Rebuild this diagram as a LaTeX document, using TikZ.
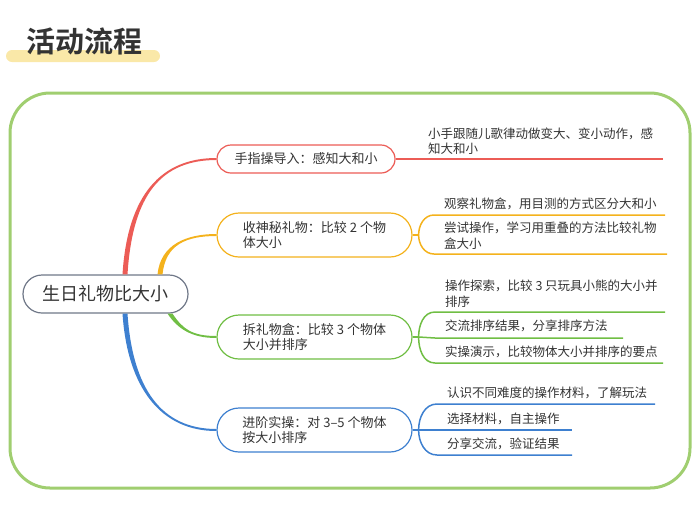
\documentclass[tikz,border=0pt]{standalone}
\usepackage{fontspec}
\setmainfont{Noto Sans CJK SC}[BoldFont={Noto Sans CJK SC Bold}]
\usepackage{tikz}
\usetikzlibrary{calc, positioning}
\definecolor{Rojo}{RGB}{236,92,86}
\definecolor{Naranja}{RGB}{244,178,28}
\definecolor{Verde}{RGB}{112,190,68}
\definecolor{Azul}{RGB}{62,128,208}
\definecolor{Marco}{RGB}{160,206,112}
\definecolor{Gris}{RGB}{112,120,136}
\definecolor{Barra}{RGB}{250,232,168}
\definecolor{Texto}{RGB}{51,51,51}

\begin{document}
\begin{tikzpicture}[x=1pt, y=-1pt,
  raizbox/.style={rectangle, rounded corners=19pt, draw=Gris, line width=1.2pt,
                  fill=white, minimum width=165pt, minimum height=38pt,
                  font=\fontsize{18}{22}\selectfont, text=Texto},
  temabox/.style={rectangle, rounded corners=22pt, draw=#1, line width=1.2pt,
                  fill=white, minimum width=195pt, minimum height=44pt,
                  align=left, font=\fontsize{13}{15}\selectfont, text=Texto},
  subtxt/.style={anchor=south west, align=left, inner xsep=10pt, inner ysep=4.5pt,
                 font=\fontsize{12.5}{15.5}\selectfont, text=Texto},
  lin/.style={line width=1.5pt, color=#1}
]
\useasboundingbox (0,0) rectangle (700,512);

%% Titulo
\fill[Barra, rounded corners=6pt] (6,50) rectangle (160,62);
\node[font=\fontsize{29}{32}\selectfont\bfseries, text=Texto] (titulo) at (84,41) {活动流程};

%% Marco
\draw[Marco, line width=3pt, rounded corners=40pt] (10,93) rectangle (690,488);

%% Nodos principales
\node[raizbox] (raiz) at (105.5,294) {生日礼物比大小};
\node[temabox=Rojo, rounded corners=14pt, minimum width=178pt, minimum height=28pt] (t1) at (306,159)
  {手指操导入：感知大和小};
\node[temabox=Naranja] (t2) at (314.5,235) {收神秘礼物：比较 2 个物\\体大小};
\node[temabox=Verde] (t3) at (314.5,337) {拆礼物盒：比较 3 个物体\\大小并排序};
\node[temabox=Azul] (t4) at (314.5,430) {进阶实操：对 3–5 个物体\\按大小排序};

%% Ramas (gruesas junto a la raiz)
\fill[Rojo] ([xshift=17pt]raiz.north) .. controls +(5,-80) and +(-55,0) .. ([yshift=1pt]t1.west)
  -- ([yshift=-1pt]t1.west) .. controls +(-55,0) and +(5,-80) .. ([xshift=22pt]raiz.north) -- cycle;
\fill[Naranja] ([xshift=52pt]raiz.north) .. controls +(3,-30) and +(-30,0) .. ([yshift=1pt]t2.west)
  -- ([yshift=-1pt]t2.west) .. controls +(-30,0) and +(3,-30) .. ([xshift=57pt]raiz.north) -- cycle;
\fill[Verde] ([xshift=62pt]raiz.south) .. controls +(10,15) and +(-25,0) .. ([yshift=-1pt]t3.west)
  -- ([yshift=1pt]t3.west) .. controls +(-25,0) and +(10,15) .. ([xshift=67pt]raiz.south) -- cycle;
\fill[Azul] ([xshift=17pt]raiz.south) .. controls +(5,75) and +(-55,0) .. ([yshift=-1pt]t4.west)
  -- ([yshift=1pt]t4.west) .. controls +(-55,0) and +(5,75) .. ([xshift=22pt]raiz.south) -- cycle;

%% Etapa 1
\node[subtxt, inner ysep=4pt] (s11) at (418,159) {小手跟随儿歌律动做变大、变小动作，感\\知大和小};
\coordinate (e11) at (663,159);
\draw[lin=Rojo] (t1.east) -- (s11.south west) -- (e11);

%% Etapa 2
\node[subtxt] (s21) at (434,215) {观察礼物盒，用目测的方式区分大和小};
\node[subtxt] (s22) at (434,254) {尝试操作，学习用重叠的方法比较礼物\\盒大小};
\coordinate (e21) at (665,215);
\coordinate (e22) at (667,254);
\draw[lin=Naranja] (t2.east) -- ++(6,0) coordinate (k2);
\draw[lin=Naranja] (k2) to[out=90, in=180] (s21.south west) -- (e21);
\draw[lin=Naranja] (k2) to[out=-90, in=180] (s22.south west) -- (e22);

%% Etapa 3
\node[subtxt] (s31) at (435,312) {操作探索，比较 3 只玩具小熊的大小并\\排序};
\node[subtxt, inner ysep=6pt] (s32) at (435,338) {交流排序结果，分享排序方法};
\node[subtxt] (s33) at (435,363) {实操演示，比较物体大小并排序的要点};
\coordinate (e31) at (665,312);
\coordinate (e32) at (623,338);
\coordinate (e33) at (663,363);
\draw[lin=Verde] (t3.east) -- ++(6,0) coordinate (k3);
\draw[lin=Verde] (k3) to[out=90, in=180] (s31.south west) -- (e31);
\draw[lin=Verde] (k3) -- (s32.south west) -- (e32);
\draw[lin=Verde] (k3) to[out=-90, in=180] (s33.south west) -- (e33);

%% Etapa 4
\node[subtxt] (s41) at (437,404) {认识不同难度的操作材料，了解玩法};
\node[subtxt] (s42) at (437,430) {选择材料，自主操作};
\node[subtxt] (s43) at (437,455) {分享交流，验证结果};
\coordinate (e41) at (655,404);
\coordinate (e42) at (572,430);
\coordinate (e43) at (572,455);
\draw[lin=Azul] (t4.east) -- ++(6,0) coordinate (k4);
\draw[lin=Azul] (k4) to[out=90, in=180] (s41.south west) -- (e41);
\draw[lin=Azul] (k4) -- (s42.south west) -- (e42);
\draw[lin=Azul] (k4) to[out=-90, in=180] (s43.south west) -- (e43);

\end{tikzpicture}
\end{document}
